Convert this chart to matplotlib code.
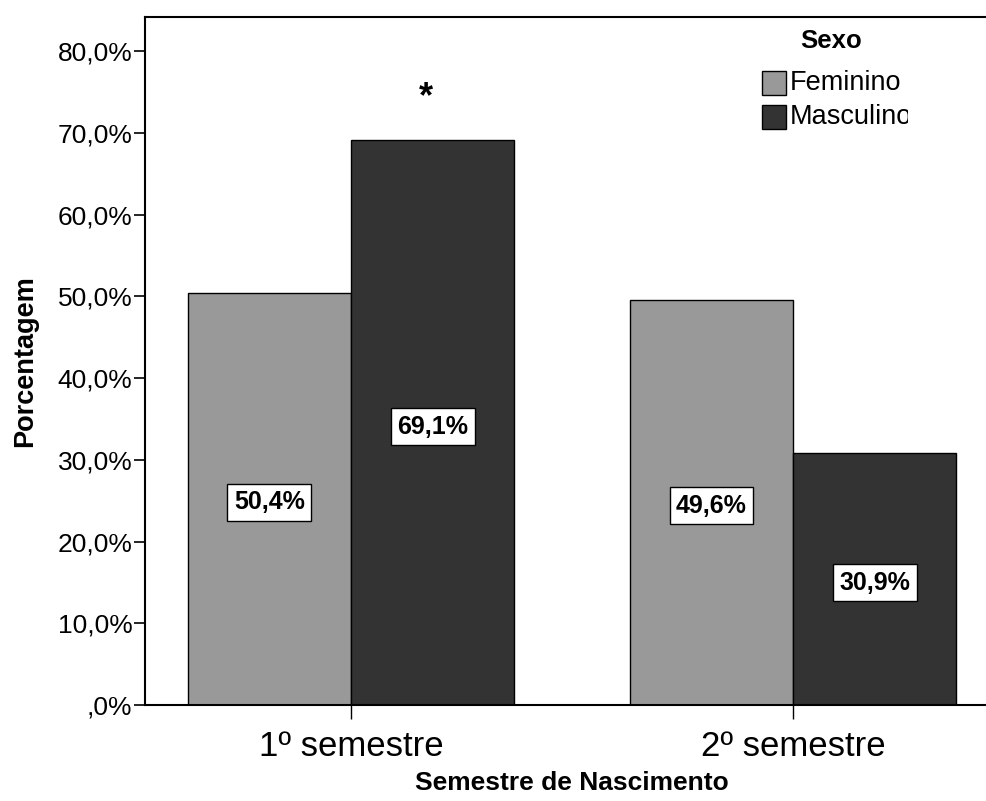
import numpy as np
import matplotlib.pyplot as plt
from matplotlib.transforms import Bbox

plt.rcParams['font.family'] = ['Liberation Sans', 'DejaVu Sans']

semestres = ['1º semestre', '2º semestre']
sexos = ['Feminino', 'Masculino']
feminino = [50.4, 49.6]
masculino = [69.1, 30.9]
rotulos_fem = ['50,4%', '49,6%']
rotulos_masc = ['69,1%', '30,9%']
yticks = [0, 10, 20, 30, 40, 50, 60, 70, 80]
ytick_labels = [',0%', '10,0%', '20,0%', '30,0%', '40,0%', '50,0%', '60,0%', '70,0%', '80,0%']
cores = ['#999999', '#333333']

fig = plt.figure(figsize=(9.86, 8.01), dpi=100)
W, H = 986, 801
# axes from x=145 to ~999 px (right edge beyond the image), y from 17 to 705 px
ax = fig.add_axes([145 / W, (H - 705) / H, (999 - 145) / W, (705 - 17) / H])

x = np.arange(len(semestres))
w = 0.369
b1 = ax.bar(x - w / 2, feminino, w, color=cores[0], edgecolor='black', linewidth=1.0, label=sexos[0])
b2 = ax.bar(x + w / 2, masculino, w, color=cores[1], edgecolor='black', linewidth=1.0, label=sexos[1])

caixa = dict(boxstyle='square,pad=0.26', facecolor='white', edgecolor='black', linewidth=1.0)
for xi, v, t in zip(x - w / 2, feminino, rotulos_fem):
    ax.text(xi, v / 2 - 0.4, t, ha='center', va='center', fontsize=18, fontweight='bold', bbox=caixa)
for xi, v, t in zip(x + w / 2, masculino, rotulos_masc):
    ax.text(xi, v / 2 - 0.5, t, ha='center', va='center', fontsize=18, fontweight='bold', bbox=caixa)

# significance mark
ax.text(x[0] + w / 2 - 0.015, masculino[0] + 5.2, '*', ha='center', va='center', fontsize=26, fontweight='bold')

ax.set_xlim(-0.466, 1.466)
ax.set_ylim(0, 84.2)
ax.set_yticks(yticks)
ax.set_yticklabels(ytick_labels, fontsize=19)
ax.set_xticks(x)
ax.set_xticklabels(semestres, fontsize=25)
ax.tick_params(axis='y', length=8, width=1.2, pad=1)
ax.tick_params(axis='x', length=10, width=1.0, pad=8)
for s in ax.spines.values():
    s.set_linewidth(1.5)

ax.set_xlabel('Semestre de Nascimento', fontsize=19, fontweight='bold', labelpad=6)
ax.set_ylabel('Porcentagem', fontsize=19.5, fontweight='bold', labelpad=14)

# legend drawn by hand so the label can be cut like in the original
clip = Bbox.from_extents(0, 0, 908, H)
fig.text(831 / W, 1 - 41 / H, 'Sexo', ha='center', va='center', fontsize=18.5, fontweight='bold')
for i, (nome, cor) in enumerate(zip(sexos, cores)):
    yc = 83 + i * 34
    fig.patches.append(plt.Rectangle((762 / W, 1 - (yc + 12) / H), 24 / W, 24 / H, transform=fig.transFigure,
                                     facecolor=cor, edgecolor='black', linewidth=1.0, figure=fig))
    t = fig.text(790 / W, 1 - yc / H, nome, ha='left', va='center', fontsize=19.5)
    t.set_clip_box(clip)
    t.set_clip_on(True)

fig.savefig('out.png', dpi=100)
